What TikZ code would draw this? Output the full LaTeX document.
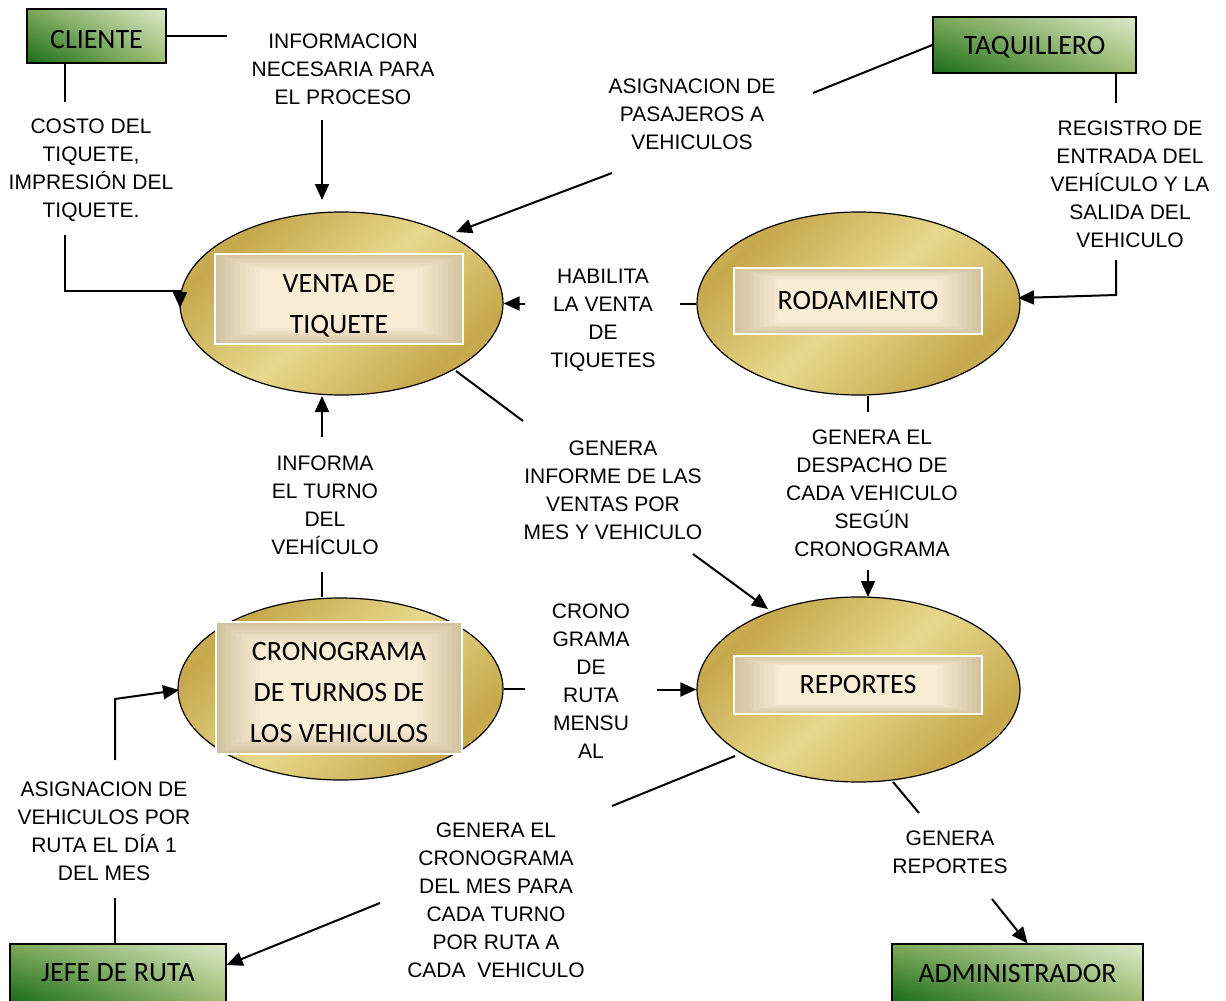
\documentclass[tikz,border=0pt]{standalone}
\usepackage{fontspec}
\setmainfont{Liberation Sans}
\newfontfamily\boxfont{Carlito}
\usetikzlibrary{shapes.geometric,arrows.meta,calc,shadings}

\definecolor{gDark}{RGB}{24,108,24}
\definecolor{gMidA}{RGB}{125,168,88}
\definecolor{gMidB}{RGB}{160,190,115}
\definecolor{gLight}{RGB}{222,234,202}
\definecolor{goldD}{RGB}{198,168,76}
\definecolor{goldL}{RGB}{231,216,140}
\definecolor{panelOut}{RGB}{210,196,160}
\definecolor{panelIn}{RGB}{250,237,214}

\pgfdeclarehorizontalshading{goldmetal}{100bp}{color(0bp)=(goldL); color(27bp)=(goldD); color(50bp)=(goldL); color(73bp)=(goldD); color(100bp)=(goldL)}

% extra room above the first line of a box text
\newcommand\padtop[1]{\rule{0pt}{#1}}

\tikzset{
  entity/.style={draw, line width=1.3pt, shade, lower left=gDark, upper right=gLight,
    upper left=gMidA, lower right=gMidB, inner sep=0pt,
    font=\boxfont\fontsize{28}{34}\selectfont},
  process/.style={ellipse, draw, line width=1.2pt, shading=goldmetal, shading angle=-48,
    inner sep=0pt},
  panel/.style={draw=white, line width=1.5pt, inner sep=0pt, align=center,
    font=\boxfont\fontsize{28}{41}\selectfont,
    path picture={
      \foreach \k in {0,...,9}{
        \pgfmathsetmacro\f{\k*0.04}
        \pgfmathtruncatemacro\p{\k*11}
        \fill[panelIn!\p!panelOut]
          ($(path picture bounding box.south west)!\f!(path picture bounding box.center)$)
          rectangle
          ($(path picture bounding box.north east)!\f!(path picture bounding box.center)$);
      }
    }},
  flowlabel/.style={align=center, inner sep=0pt, font=\fontsize{21}{28}\selectfont},
  link/.style={line width=2pt},
  arr/.style={link, -{Triangle[length=16pt,width=14pt]}}
}

\begin{document}
\begin{tikzpicture}[x=1pt,y=-1pt]
\useasboundingbox (0,0) rectangle (1226,1001);

% external entities
\node[entity, minimum width=139, minimum height=54] (cliente) at (96.5,36) {\padtop{25pt}CLIENTE};
\node[entity, minimum width=203, minimum height=56] (taq) at (1034.5,45) {\padtop{23pt}TAQUILLERO};
\node[entity, minimum width=216, minimum height=58] (jefe) at (118,973) {JEFE DE RUTA};
\node[entity, minimum width=251, minimum height=58] (admin) at (1017.5,973) {ADMINISTRADOR};

% processes
\node[process, minimum width=323, minimum height=183] (venta) at (341.5,303.5) {};
\node[panel, minimum width=248, minimum height=90] (ventaP) at (339,299) {\padtop{32pt}VENTA DE\\TIQUETE};
\node[process, minimum width=323, minimum height=183] (rod) at (858.5,303.5) {};
\node[panel, minimum width=248, minimum height=66] (rodP) at (858,301) {RODAMIENTO};
\node[process, minimum width=325, minimum height=182] (crono) at (340.5,689) {};
\node[panel, minimum width=246, minimum height=132] (cronoP) at (339,688) {\padtop{28pt}CRONOGRAMA\\DE TURNOS DE\\LOS VEHICULOS};
\node[process, minimum width=323, minimum height=185] (rep) at (858.5,689.5) {};
\node[panel, minimum width=248, minimum height=58] (repP) at (858,685) {REPORTES};

% flow labels
\node[flowlabel] (l1) at (343,69.5) {INFORMACION\\NECESARIA PARA\\EL PROCESO};
\node[flowlabel] (l2) at (91,170) {COSTO DEL\\TIQUETE,\\IMPRESIÓN DEL\\TIQUETE.};
\node[flowlabel] (l3) at (692,114.5) {ASIGNACION DE\\PASAJEROS A\\VEHICULOS};
\node[flowlabel] (l4) at (1130,184) {REGISTRO DE\\ENTRADA DEL\\VEHÍCULO Y LA\\SALIDA DEL\\VEHICULO};
\node[flowlabel] (l5) at (603,320) {HABILITA\\LA VENTA\\DE\\TIQUETES};
\node[flowlabel] (l6) at (613,490) {GENERA\\INFORME DE LAS\\VENTAS POR\\MES Y VEHICULO};
\node[flowlabel] (l7) at (872,493) {GENERA EL\\DESPACHO DE\\CADA VEHICULO\\SEGÚN\\CRONOGRAMA};
\node[flowlabel] (l8) at (325,505.5) {INFORMA\\EL TURNO\\DEL\\VEHÍCULO};
\node[flowlabel] (l9) at (591,681.5) {CRONO\\GRAMA\\DE\\RUTA\\MENSU\\AL};
\node[flowlabel] (l10) at (104,831) {ASIGNACION DE\\VEHICULOS POR\\RUTA EL DÍA 1\\DEL MES};
\node[flowlabel] (l11) at (496,900.5) {GENERA EL\\CRONOGRAMA\\DEL MES PARA\\CADA TURNO\\POR RUTA A\\CADA\ \ VEHICULO};
\node[flowlabel] (l12) at (950,852.5) {GENERA\\REPORTES};

% free ends of the flows
\coordinate (c1a) at (227,36);
\coordinate (c1b) at (322,120);  \coordinate (c1t) at (322,200);
\coordinate (c2s) at (65,63);    \coordinate (c2a) at (65,102);
\coordinate (c2b) at (65,235);   \coordinate (c2k) at (180,291); \coordinate (c2t) at (180,308);
\coordinate (c3a) at (813,93);
\coordinate (c3b) at (612,173);  \coordinate (c3t) at (456,232);
\coordinate (c4s) at (1116,73);  \coordinate (c4a) at (1116,103);
\coordinate (c4b) at (1116,260); \coordinate (c4k) at (1116,295); \coordinate (c4t) at (1018,298);
\coordinate (c5a) at (680,303.5);
\coordinate (c5b) at (525,303.5);
\coordinate (c6s) at (456,371);  \coordinate (c6a) at (523,421);
\coordinate (c6b) at (693,554);  \coordinate (c6t) at (768,609);
\coordinate (c7a) at (868,412);
\coordinate (c7b) at (868,570);  \coordinate (c7t) at (868,597);
\coordinate (c8a) at (322,572);
\coordinate (c8b) at (322,437);  \coordinate (c8t) at (322,396);
\coordinate (c9a) at (525,689);
\coordinate (c9b) at (657,689.5);
\coordinate (c10a) at (115,898);
\coordinate (c10b) at (115,760); \coordinate (c10k) at (115,699); \coordinate (c10t) at (179,690);
\coordinate (c11s) at (735,756); \coordinate (c11a) at (612,806);
\coordinate (c11b) at (380,903);
\coordinate (c12s) at (893,782); \coordinate (c12a) at (919,813);
\coordinate (c12b) at (992,899);

% flows
\draw[link] (cliente.east) -- (c1a);
\draw[arr] (c1b) -- (c1t);
\draw[link] (c2s) -- (c2a);
\draw[arr] (c2b) |- (c2k) -- (c2t);
\draw[link] (taq.west) -- (c3a);
\draw[arr] (c3b) -- (c3t);
\draw[link] (c4s) -- (c4a);
\draw[arr] (c4b) -- (c4k) -- (c4t);
\draw[link] (rod.west) -- (c5a);
\draw[arr] (c5b) -- (venta.east);
\draw[link] (c6s) -- (c6a);
\draw[arr] (c6b) -- (c6t);
\draw[link] ($(rod.south)+(9.5,0)$) -- (c7a);
\draw[arr] (c7b) -- (c7t);
\draw[link] ($(crono.north)+(-18.5,0)$) -- (c8a);
\draw[arr] (c8b) -- (c8t);
\draw[link] (crono.east) -- (c9a);
\draw[arr] (c9b) -- (rep.west);
\draw[link] ($(jefe.north)+(-3,0)$) -- (c10a);
\draw[arr] (c10b) -- (c10k) -- (c10t);
\draw[link] (c11s) -- (c11a);
\draw[arr] (c11b) -- (jefe.north east |- 0,965);
\draw[link] (c12s) -- (c12a);
\draw[arr] (c12b) -- ($(admin.north)+(10,0)$);
\end{tikzpicture}
\end{document}
